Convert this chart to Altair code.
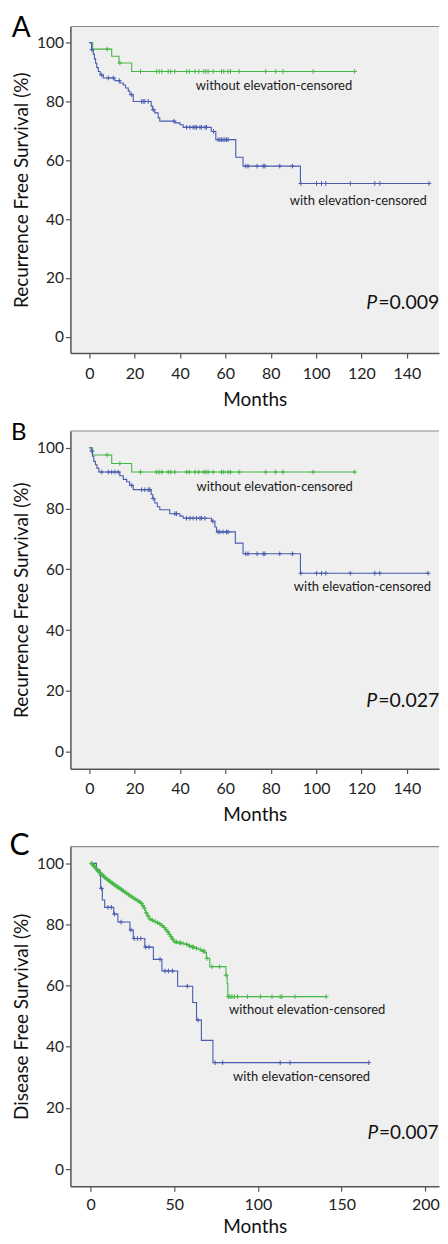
import altair as alt
import pandas as pd

FONT = "Lato"
BLUE = "#4a5cb0"
GREEN = "#45b845"
BG = "#efefef"
PLUS = "M-1,0L1,0M0,-1L0,1"

# ---------------- Panel A (Recurrence free survival) ----------------
a_grn_t = [1.5, 9.9, 13.1, 18.7]
a_grn_s = [97.8, 95.4, 93.1, 90.2]
a_grn_end = 117.0
a_grn_c = [7.9, 13.5, 22.6, 29.7, 30.8, 32.0, 34.8, 35.9, 37.7, 42.9, 44.1, 46.6,
           48.3, 50.5, 51.4, 52.4, 54.6, 58.3, 59.3, 61.2, 62.3, 66.1, 77.8, 82.2,
           85.4, 98.7, 117.0]

a_blu_t = [1.0, 1.8, 2.3, 2.8, 3.3, 4.0, 4.8, 6.2, 11.3, 13.5, 15.0, 16.0, 17.2,
           17.9, 19.4, 27.3, 28.0, 28.9, 30.4, 31.1, 37.8, 40.0, 41.4, 53.8, 55.8,
           64.6, 67.8, 93.1]
a_blu_s = [97.6, 96.0, 94.5, 93.0, 91.5, 90.2, 89.0, 88.0, 87.1, 86.3, 85.6, 84.6,
           83.5, 82.3, 80.0, 78.4, 77.2, 76.1, 74.4, 73.3, 72.7, 72.1, 71.2, 69.8,
           67.0, 61.0, 58.0, 52.1]
a_blu_end = 149.8
a_blu_c = [1.2, 5.5, 8.4, 10.6, 13.2, 18.7, 23.1, 23.8, 24.5, 26.0, 28.2, 37.4,
           42.9, 44.4, 45.8, 46.6, 47.3, 48.8, 49.5, 51.0, 51.7, 54.8, 56.8, 57.6,
           58.3, 59.0, 59.8, 60.5, 61.2, 69.0, 70.0, 74.0, 76.7, 77.4, 84.0, 89.6,
           93.3, 100.2, 102.4, 104.3, 115.1, 125.9, 128.1, 149.8]

# ---------------- Panel B ----------------
b_grn_t = [1.5, 9.9, 18.7]
b_grn_s = [97.6, 94.8, 92.0]
b_grn_end = 117.0
b_grn_c = [7.9, 13.5, 22.6, 29.7, 30.8, 32.0, 34.8, 35.9, 37.7, 42.9, 44.1, 46.6,
           48.3, 50.5, 51.4, 52.4, 54.6, 58.3, 59.3, 61.2, 62.3, 66.1, 77.8, 82.2,
           85.4, 98.7, 117.0]

b_blu_t = [0.8, 1.4, 2.0, 2.7, 3.4, 4.2, 13.5, 15.0, 16.5, 17.8, 19.4, 27.3, 28.0,
           28.9, 30.0, 31.1, 35.5, 40.0, 41.4, 53.9, 55.4, 56.1, 64.4, 67.8, 93.1]
b_blu_s = [98.9, 97.2, 95.5, 94.4, 93.3, 92.0, 90.8, 89.6, 88.8, 87.6, 86.2, 84.6,
           83.3, 81.8, 80.6, 79.6, 78.3, 77.5, 76.8, 75.8, 73.9, 72.3, 68.6, 65.1, 58.7]
b_blu_end = 149.4
b_blu_c = [1.2, 5.5, 8.4, 9.9, 11.3, 12.8, 18.7, 23.1, 24.5, 26.0, 26.7, 28.2, 37.8,
           38.5, 42.9, 44.4, 45.8, 47.3, 48.8, 49.5, 51.0, 54.5, 56.8, 57.6, 59.0,
           60.5, 61.2, 69.0, 70.0, 74.0, 76.7, 77.4, 84.0, 89.6, 93.3, 100.2, 102.4,
           104.3, 115.1, 125.9, 128.1, 149.4]

# ---------------- Panel C (Disease free survival) ----------------
c_grn_t = [0.8, 1.5, 2.2, 2.9, 3.5, 4.3, 5.0, 5.8, 6.6, 7.4, 8.1, 8.9, 9.8, 10.6,
           11.4, 12.3, 13.1, 14.0, 14.9, 15.7, 16.5, 17.2, 18.1, 19.0, 20.0, 21.2,
           22.1, 23.1, 24.2, 25.3, 26.5, 27.6, 28.8, 30.0, 30.9, 31.8, 32.4, 32.9,
           33.8, 34.9, 36.3, 37.9, 39.4, 40.8, 42.1, 43.5, 44.6, 45.6, 46.7, 47.6,
           48.5, 49.6, 52.0, 54.5, 56.3, 58.4, 60.1, 62.3, 64.5, 66.4, 68.1, 69.2,
           71.2, 80.9, 81.6, 82.0]
c_grn_s = [99.6, 99.2, 98.8, 98.3, 97.8, 97.4, 97.0, 96.6, 96.2, 95.8, 95.4, 95.0,
           94.7, 94.3, 94.0, 93.6, 93.3, 92.9, 92.6, 92.3, 92.0, 91.7, 91.4, 91.0,
           90.6, 90.2, 89.8, 89.4, 89.0, 88.6, 88.2, 87.8, 87.4, 86.9, 86.1, 85.3,
           84.6, 83.8, 82.8, 81.8, 81.4, 81.0, 80.6, 80.2, 79.6, 79.0, 78.3, 77.6,
           76.8, 76.0, 75.2, 74.3, 74.0, 73.8, 73.5, 73.0, 72.6, 72.2, 71.8, 71.3,
           70.8, 68.9, 66.2, 63.4, 60.7, 56.4]
c_grn_end = 140.8
c_grn_c = [0.5, 1.2, 1.9, 2.6, 3.2, 4.0, 4.7, 5.4, 6.2, 7.0, 7.8, 8.5, 9.3, 10.2,
           11.0, 11.8, 12.7, 13.5, 14.4, 15.3, 16.1, 16.9, 17.7, 18.6, 19.5, 20.5,
           21.6, 22.6, 23.6, 24.7, 25.8, 27.0, 28.2, 29.4, 30.5, 31.3, 32.2, 33.3,
           34.3, 35.5, 36.9, 38.5, 40.0, 41.4, 42.8, 44.0, 45.1, 46.2, 47.1, 48.1,
           49.0, 50.5, 51.3, 53.0, 53.8, 55.2, 57.4, 59.1, 60.8, 61.5, 63.3, 65.5,
           67.3, 67.8, 69.6, 72.5, 77.1, 81.0, 82.3, 83.2, 84.4, 85.8, 87.8, 93.7,
           101.5, 108.4, 113.3, 114.3, 122.2, 140.8]

c_blu_t = [3.5, 5.5, 6.0, 7.0, 8.4, 13.8, 16.3, 23.5, 25.5, 32.4, 37.5, 42.6, 52.0,
           61.0, 63.3, 66.2, 73.1]
c_blu_s = [98.0, 96.0, 91.8, 88.0, 85.6, 83.4, 80.8, 78.2, 75.4, 72.6, 68.6, 64.8,
           59.8, 54.5, 48.7, 42.1, 34.8]
c_blu_end = 166.2
c_blu_c = [6.5, 10.4, 12.4, 14.3, 18.2, 24.1, 26.1, 28.0, 30.0, 32.9, 34.9, 41.5,
           44.4, 46.5, 49.0, 57.8, 64.2, 74.4, 78.9, 113.3, 119.2, 166.2]

y_ticks = [0, 20, 40, 60, 80, 100]
ab_x_ticks = [0, 20, 40, 60, 80, 100, 120, 140]
c_x_ticks = [0, 50, 100, 150, 200]


def steps(times, surv, end):
    return pd.DataFrame({"t": [0.0] + list(times) + [end],
                         "s": [100.0] + list(surv) + [surv[-1]]})


def level(x, times, surv):
    v = 100.0
    for ti, si in zip(times, surv):
        if ti <= x:
            v = si
    return v


def cens(cs, times, surv):
    return pd.DataFrame({"t": cs, "s": [level(c, times, surv) for c in cs]})


W = 369


def panel(letter, lsize, lx, ly, ytitle, height, xdom, xticks, curves, labels,
          p_x, p_y, p_num, p_size, lab_pad=7, tit_pad=9):
    xs = alt.Scale(domain=xdom, nice=False, zero=False)
    ys = alt.Scale(domain=[-5.6, 105.5], nice=False, zero=False)
    xax = alt.Axis(values=xticks, title="Months", grid=False, labelPadding=lab_pad, titlePadding=tit_pad)
    yax = alt.Axis(values=y_ticks, title=ytitle, grid=False)
    X = alt.X("t:Q", scale=xs, axis=xax)
    Y = alt.Y("s:Q", scale=ys, axis=yax)
    layers = []
    layers.append(alt.Chart(pd.DataFrame({"a": [0]})).mark_rule(color="#8a8a8a", strokeWidth=1.2)
                  .encode(x=alt.value(0), x2=alt.value(W), y=alt.value(0)))
    for times, surv, end, cs, color in curves:
        layers.append(alt.Chart(steps(times, surv, end))
                      .mark_line(interpolate="step-after", color=color, strokeWidth=1.1)
                      .encode(x=X, y=Y))
        layers.append(alt.Chart(cens(cs, times, surv))
                      .mark_point(shape=PLUS, size=22, color=color, filled=False, strokeWidth=1, opacity=1)
                      .encode(x=X, y=Y))
    for txt, tx, ty in labels:
        layers.append(alt.Chart(pd.DataFrame({"t": [tx], "s": [ty], "l": [txt]}))
                      .mark_text(align="left", baseline="middle", font=FONT, fontSize=13, color="#1a1a1a")
                      .encode(x=X, y=Y, text="l:N"))
    pdf = pd.DataFrame({"t": [p_x], "s": [p_y], "p": ["P"], "n": [p_num]})
    layers.append(alt.Chart(pdf).mark_text(align="right", baseline="middle", font=FONT, fontSize=p_size,
                                           fontStyle="italic", color="#111", dx=-1)
                  .encode(x=X, y=Y, text="p:N"))
    layers.append(alt.Chart(pdf).mark_text(align="left", baseline="middle", font=FONT, fontSize=p_size,
                                           color="#111")
                  .encode(x=X, y=Y, text="n:N"))
    layers.append(alt.Chart(pd.DataFrame({"l": [letter]}))
                  .mark_text(align="left", baseline="top", font=FONT, fontSize=lsize, color="black")
                  .encode(x=alt.value(lx), y=alt.value(ly), text="l:N"))
    return alt.layer(*layers).properties(width=W, height=height)


pA = panel("A", 28, -58.8, -11.2, "Recurrence Free Survival (%)", 327, [-8.3, 154.2], ab_x_ticks,
           [(a_grn_t, a_grn_s, a_grn_end, a_grn_c, GREEN),
            (a_blu_t, a_blu_s, a_blu_end, a_blu_c, BLUE)],
           [("without elevation-censored", 47.0, 85.2), ("with elevation-censored", 88.4, 46.1)],
           127.4, 11.5, "=0.009", 19.5)
pB = panel("B", 24, -59.5, -10.0, "Recurrence Free Survival (%)", 338, [-8.3, 154.2], ab_x_ticks,
           [(b_grn_t, b_grn_s, b_grn_end, b_grn_c, GREEN),
            (b_blu_t, b_blu_s, b_blu_end, b_blu_c, BLUE)],
           [("without elevation-censored", 47.3, 87.1), ("with elevation-censored", 90.2, 54.2)],
           127.4, 16.8, "=0.027", 19.5)
pC = panel("C", 30, -61.0, -15.5, "Disease Free Survival (%)", 340, [-12.06, 208.2], c_x_ticks,
           [(c_blu_t, c_blu_s, c_blu_end, c_blu_c, BLUE),
            (c_grn_t, c_grn_s, c_grn_end, c_grn_c, GREEN)],
           [("without elevation-censored", 82.7, 52.0), ("with elevation-censored", 85.1, 30.0)],
           172.4, 11.7, "=0.007", 19, lab_pad=5, tit_pad=5)

chart = (alt.vconcat(pA, pB, pC, spacing=78, bounds="flush")
         .properties(padding={"left": 1.5, "top": 5.8, "right": 0, "bottom": 0}, background="white")
         .configure_view(fill=BG, stroke=None)
         .configure_axis(domainColor="#555555", domainWidth=1.5, tickColor="#555555", tickWidth=1.2,
                         tickSize=5, labelFont=FONT, titleFont=FONT, labelColor="#222222",
                         titleColor="#111111", titleFontWeight="normal")
         .configure_axisX(labelFontSize=16, titleFontSize=19)
         .configure_axisY(labelFontSize=15.5, titleFontSize=19, labelPadding=2,
                          titleX=-57.5, titleBaseline="top"))

chart.save("out.html", embed_options={"renderer": "svg", "actions": False})
